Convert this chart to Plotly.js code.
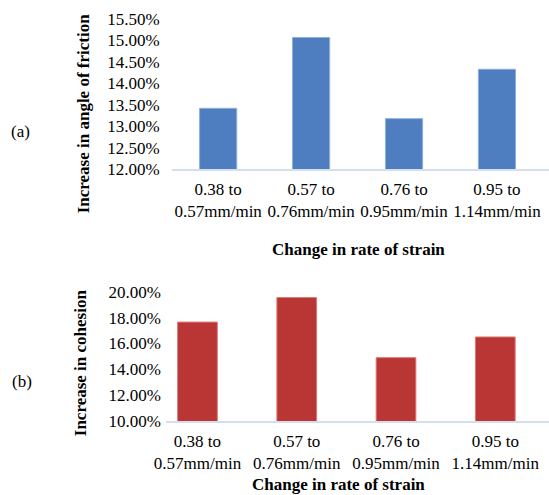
<!DOCTYPE html>
<html>
<head>
<meta charset="utf-8">
<script src="https://cdn.plot.ly/plotly-3.0.1.min.js"></script>
<style>html,body{margin:0;padding:0;background:#fff;}#chart{width:549px;height:495px;}</style>
</head>
<body>
<div id="chart"></div>
<script>
const categories = ["0.38 to<br>0.57mm/min", "0.57 to<br>0.76mm/min", "0.76 to<br>0.95mm/min", "0.95 to<br>1.14mm/min"];
const frictionIncrease = [0.1342, 0.1507, 0.1318, 0.1433];
const cohesionIncrease = [0.1765, 0.1955, 0.1490, 0.1650];
const frictionTicks = [0.12, 0.125, 0.13, 0.135, 0.14, 0.145, 0.15, 0.155];
const cohesionTicks = [0.10, 0.12, 0.14, 0.16, 0.18, 0.20];

const W = 549, H = 495;
const px = v => v / W;
const py = v => (H - v) / H;
const serif = "'Liberation Serif', 'Times New Roman', serif";
const tickFont = {family: serif, size: 17, color: '#000'};
const titleFont = {family: serif, size: 17, color: '#000', weight: 'bold'};

const data = [
  {type: 'bar', x: categories, y: frictionIncrease, xaxis: 'x', yaxis: 'y',
   marker: {color: '#4e7ebf', line: {color: '#8fb0dc', width: 1}}, hoverinfo: 'skip'},
  {type: 'bar', x: categories, y: cohesionIncrease, xaxis: 'x2', yaxis: 'y2',
   marker: {color: '#b93634', line: {color: '#dc7a78', width: 1}}, hoverinfo: 'skip'}
];

const layout = {
  width: W, height: H,
  margin: {l: 0, r: 0, t: 0, b: 0},
  paper_bgcolor: '#fff', plot_bgcolor: '#fff',
  showlegend: false,
  bargap: 0.6,
  xaxis: {domain: [px(171.7), 1], anchor: 'y', range: [-0.5, 3.56], showgrid: false, zeroline: false,
          showline: true, linecolor: '#d5dfec', linewidth: 1.5, ticks: '', tickfont: tickFont, ticklabelstandoff: 4},
  yaxis: {domain: [py(169.3), py(19)], anchor: 'x', range: [0.12, 0.155], tickvals: frictionTicks,
          tickformat: '.2%', showgrid: false, zeroline: false, showline: false, ticks: '',
          tickfont: tickFont, ticklabelstandoff: 11},
  xaxis2: {domain: [px(166), 1], anchor: 'y2', range: [-0.317, 3.541], showgrid: false, zeroline: false,
          showline: true, linecolor: '#d5dfec', linewidth: 1.5, ticks: '', tickfont: tickFont, ticklabelstandoff: 4},
  yaxis2: {domain: [py(421), py(291.7)], anchor: 'x2', range: [0.10, 0.20], tickvals: cohesionTicks,
          tickformat: '.2%', showgrid: false, zeroline: false, showline: false, ticks: '',
          tickfont: tickFont, ticklabelstandoff: 4},
  annotations: [
    {text: 'Change in rate of strain', xref: 'paper', yref: 'paper', x: px(358.7), y: py(250),
     xanchor: 'center', yanchor: 'middle', showarrow: false, font: titleFont},
    {text: 'Change in rate of strain', xref: 'paper', yref: 'paper', x: px(338.7), y: py(495),
     xanchor: 'center', yanchor: 'bottom', borderpad: 0, showarrow: false, font: titleFont},
    {text: 'Increase in angle of friction', xref: 'paper', yref: 'paper', x: px(83.3), y: py(114),
     xanchor: 'center', yanchor: 'middle', textangle: -90, showarrow: false, font: titleFont},
    {text: 'Increase in cohesion', xref: 'paper', yref: 'paper', x: px(80.7), y: py(362.5),
     xanchor: 'center', yanchor: 'middle', textangle: -90, showarrow: false, font: titleFont},
    {text: '(a)', xref: 'paper', yref: 'paper', x: px(20.7), y: py(131.7),
     xanchor: 'center', yanchor: 'middle', showarrow: false, font: tickFont},
    {text: '(b)', xref: 'paper', yref: 'paper', x: px(21.7), y: py(381.7),
     xanchor: 'center', yanchor: 'middle', showarrow: false, font: tickFont}
  ]
};

Plotly.newPlot('chart', data, layout, {staticPlot: true, displayModeBar: false});
</script>
</body>
</html>
